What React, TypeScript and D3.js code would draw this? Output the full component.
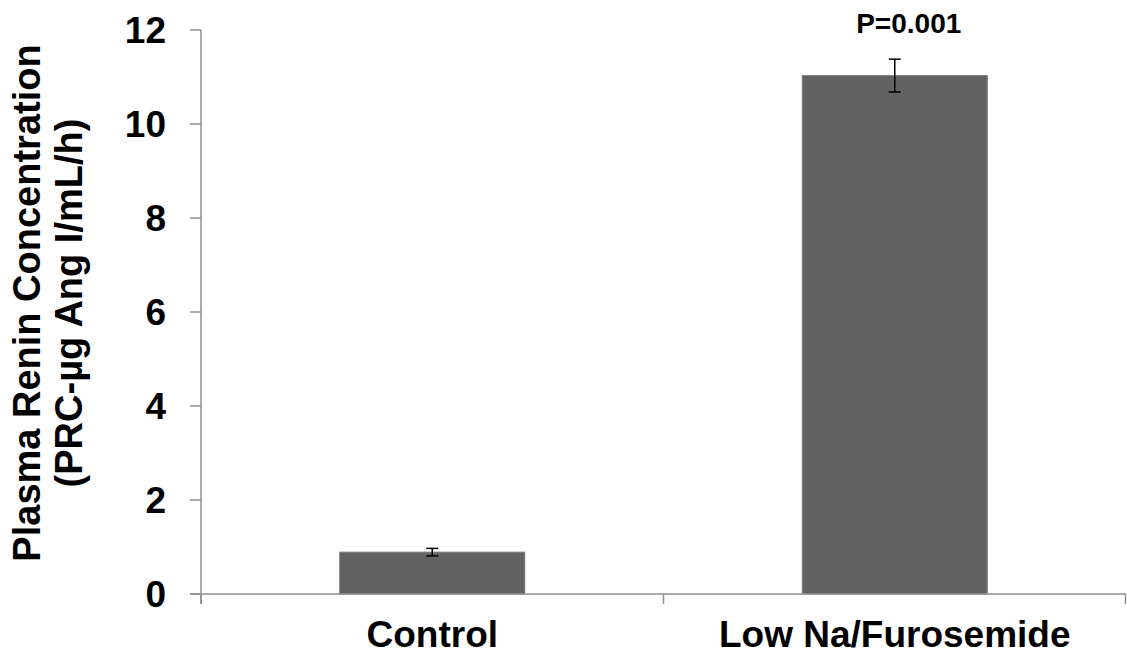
import React from "react";
import * as d3 from "d3";

// Plasma renin concentration by treatment group
const categories = ["Control", "Low Na/Furosemide"];
const means = [0.89, 11.03];
const errors = [0.08, 0.35];
const yTicks = [0, 2, 4, 6, 8, 10, 12];
const pLabel = "P=0.001";
const yTitle = ["Plasma Renin Concentration", "(PRC-\u00b5g Ang I/mL/h)"];

const W = 1127;
const H = 656;
const margin = { left: 201, right: 1, top: 30, bottom: 62 };
const FONT = "'Liberation Sans', Arial, Helvetica, sans-serif";

export default function App() {
  const x = d3
    .scaleBand<string>()
    .domain(categories)
    .range([margin.left, W - margin.right])
    .paddingInner(0.6)
    .paddingOuter(0.3);
  const xOuter = d3
    .scaleBand<string>()
    .domain(categories)
    .range([margin.left, W - margin.right]);
  const y = d3
    .scaleLinear()
    .domain([0, 12])
    .range([H - margin.bottom, margin.top]);

  const axisColor = "#8f8f8f";
  const y0 = y(0);

  return (
    <svg
      width={W}
      height={H}
      style={{ position: "absolute", left: 0, top: 0, background: "#fff" }}
      fontFamily={FONT}
    >
      {/* bars */}
      {categories.map((c, i) => (
        <rect
          key={c}
          x={x(c)}
          y={y(means[i])}
          width={x.bandwidth()}
          height={y0 - y(means[i])}
          fill="#626262"
          stroke="#7a7a7a"
          strokeWidth={1}
        />
      ))}

      {/* error bars */}
      {categories.map((c, i) => {
        const cx = (x(c) as number) + x.bandwidth() / 2;
        const top = y(means[i] + errors[i]);
        const bot = y(means[i] - errors[i]);
        return (
          <g key={c} stroke="#000" strokeWidth={1.5}>
            <line x1={cx} x2={cx} y1={top} y2={bot} />
            <line x1={cx - 6} x2={cx + 6} y1={top} y2={top} />
            <line x1={cx - 6} x2={cx + 6} y1={bot} y2={bot} />
          </g>
        );
      })}

      {/* y axis */}
      <line x1={margin.left} x2={margin.left} y1={y(12)} y2={y0 + 10} stroke={axisColor} strokeWidth={1.5} />
      {yTicks.map((t) => (
        <g key={t}>
          <line x1={margin.left - 11} x2={margin.left} y1={y(t)} y2={y(t)} stroke={axisColor} strokeWidth={1.5} />
          <text
            x={166}
            y={y(t)}
            dy="0.35em"
            textAnchor="end"
            fontSize={37}
            fontWeight="bold"
            fill="#000"
          >
            {t}
          </text>
        </g>
      ))}

      {/* x axis */}
      <line x1={margin.left - 11} x2={W - margin.right} y1={y0} y2={y0} stroke={axisColor} strokeWidth={1.5} />
      {[...categories.map((c) => xOuter(c) as number), W - margin.right - 0.5].map((px, i) => (
        <line key={i} x1={px} x2={px} y1={y0} y2={y0 + 10} stroke={axisColor} strokeWidth={1.5} />
      ))}
      {categories.map((c) => (
        <text
          key={c}
          x={(x(c) as number) + x.bandwidth() / 2}
          y={647}
          textAnchor="middle"
          fontSize={37}
          fontWeight="bold"
          fill="#000"
        >
          {c}
        </text>
      ))}

      {/* significance label */}
      <text
        x={(x(categories[1]) as number) + x.bandwidth() / 2 + 14}
        y={33}
        textAnchor="middle"
        fontSize={28}
        fontWeight="bold"
        fill="#000"
      >
        {pLabel}
      </text>

      {/* y axis title */}
      <g transform="translate(0,303) rotate(-90)">
        {yTitle.map((line, i) => (
          <text
            key={i}
            x={0}
            y={40 + i * 42}
            textAnchor="middle"
            fontSize={38}
            fontWeight="bold"
            fill="#000"
          >
            {line}
          </text>
        ))}
      </g>
    </svg>
  );
}
